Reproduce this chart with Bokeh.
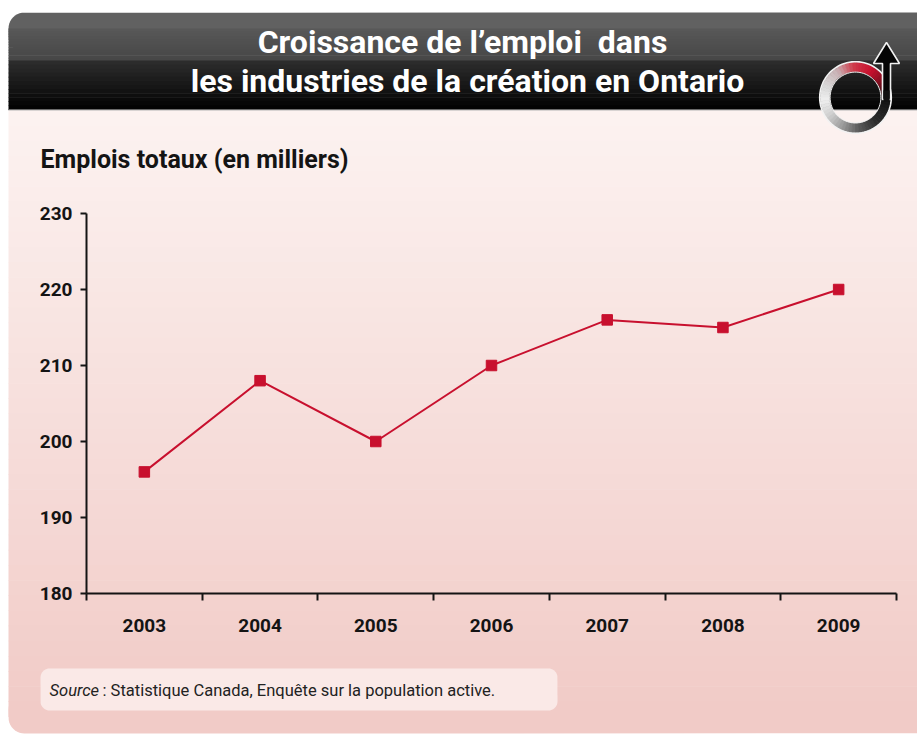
import math
from bokeh.plotting import figure
from bokeh.models import Range1d, FixedTicker
from bokeh.core.properties import value
from bokeh.embed import file_html
from bokeh.resources import INLINE

# ---------------- data ----------------
years = ["2003", "2004", "2005", "2006", "2007", "2008", "2009"]
emplois = [196, 208, 200, 210, 216, 215, 220]
y_ticks = [180, 190, 200, 210, 220, 230]

title_lines = ["Croissance de l\u2019emploi\u00a0 dans", "les industries de la cr\u00e9ation en Ontario"]
y_label = "Emplois totaux (en milliers)"
source_lead = "Source"
source_rest = ": Statistique Canada, Enqu\u00eate sur la population active."

# ---------------- layout ----------------
W, H = 917, 736
FL, FR, FT, FB = 86, 896, 213, 593          # plot area of the chart (pixels)
YMIN, YMAX = 180, 230
n = len(years)
FONT = "Roboto"
RED = "#c8102e"
INK = "#141414"

ux = (FR - FL) / n                 # px per x unit
uy = (FB - FT) / (YMAX - YMIN)     # px per y unit
x_range = Range1d(-FL / ux, n + (W - FR) / ux)
y_range = Range1d(YMIN - (H - FB) / uy, YMAX + FT / uy)


def fx(px):
    return (px - FL) / ux


def fy(py):
    return YMIN + (FB - py) / uy


def hex2rgb(h):
    h = h.lstrip("#")
    return tuple(int(h[i:i + 2], 16) for i in (0, 2, 4))


def mix(c1, c2, t):
    t = max(0.0, min(1.0, t))
    a, b = hex2rgb(c1), hex2rgb(c2)
    return "#%02x%02x%02x" % tuple(round(a[i] + (b[i] - a[i]) * t) for i in range(3))


def rounded(l, r, t, b, rad):
    pts = []
    for (cx, cy, a0) in ((r - rad, t + rad, -90), (r - rad, b - rad, 0),
                         (l + rad, b - rad, 90), (l + rad, t + rad, 180)):
        for k in range(10):
            a = math.radians(a0 + 9 * k)
            pts.append((cx + rad * math.cos(a), cy + rad * math.sin(a)))
    return [fx(q[0]) for q in pts], [fy(q[1]) for q in pts]


p = figure(width=W, height=H, output_backend="svg", toolbar_location=None,
           x_range=x_range, y_range=y_range, min_border=0)
p.grid.visible = False
p.outline_line_color = None
p.background_fill_color = "white"
p.border_fill_color = "white"

# ---------------- panel background ----------------
PL, PR = 8, 950
TOP0, MID, BAR_END, PB = 12, 60, 109, 733
c_top1, c_top2 = "#616161", "#454545"
c_low1, c_low2 = "#2c2c2c", "#030303"
c_body1, c_body2 = "#fcf2f0", "#f1cbc7"

xs, ys = rounded(PL, PR, TOP0, TOP0 + 40, 16)
p.patch(xs, ys, fill_color=c_top1, line_color=None)
xs, ys = rounded(PL, PR, PB - 40, PB, 16)
p.patch(xs, ys, fill_color=c_body2, line_color=None)

bl, br, bt, bb, bc = [], [], [], [], []


def band(y0, y1, c):
    bl.append(fx(PL)); br.append(fx(PR)); bt.append(fy(y0)); bb.append(fy(y1)); bc.append(c)


steps = 12
for i in range(steps):
    y0 = 28 + (MID - 28) * i / steps
    y1 = 28 + (MID - 28) * (i + 1) / steps + 0.6
    band(y0, y1, mix(c_top1, c_top2, (y0 - TOP0) / (MID - TOP0)))
for i in range(steps):
    y0 = MID + (BAR_END - MID) * i / steps
    y1 = MID + (BAR_END - MID) * (i + 1) / steps + 0.6
    band(y0, y1, mix(c_low1, c_low2, i / (steps - 1)))
band(BAR_END - 0.5, BAR_END + 1, "#6a6a6a")
bsteps = 40
for i in range(bsteps):
    y0 = BAR_END + 1 + (716 - BAR_END - 1) * i / bsteps
    y1 = BAR_END + 1 + (716 - BAR_END - 1) * (i + 1) / bsteps + 0.6
    band(y0, y1, mix(c_body1, c_body2, i / (bsteps - 1)))
p.quad(left=bl, right=br, top=bt, bottom=bb, fill_color=bc, line_color=None)

# source box
xs, ys = rounded(40, 557, 668, 710, 9)
p.patch(xs, ys, fill_color="#fae9e7", line_color=None)

# ---------------- logo ----------------
cx, cy, ro, ri = 855, 97, 35, 26
keys = [(0, "#111111"), (30, "#7a1020"), (60, "#c8102e"), (95, "#cf3a4a"),
        (125, "#c9b2b5"), (160, "#d9d9d9"), (185, "#efefef"), (215, "#cfcfcf"),
        (245, "#9c9c9c"), (275, "#5e5e5e"), (310, "#2c2c2c"), (360, "#111111")]


def ang_color(a):
    for (a0, c0), (a1, c1) in zip(keys[:-1], keys[1:]):
        if a0 <= a <= a1:
            return mix(c0, c1, (a - a0) / (a1 - a0))
    return keys[-1][1]


rx, ry, rc = [], [], []
seg = 6
for a in range(0, 360, seg):
    angs = [a + k * seg / 4 for k in range(5)]
    xs = [cx + ro * math.cos(math.radians(t)) for t in angs] + \
         [cx + ri * math.cos(math.radians(t)) for t in reversed(angs)]
    ys = [cy - ro * math.sin(math.radians(t)) for t in angs] + \
         [cy - ri * math.sin(math.radians(t)) for t in reversed(angs)]
    rx.append([fx(v) for v in xs]); ry.append([fy(v) for v in ys])
    rc.append(ang_color(a + seg / 2))
p.patches(rx, ry, fill_color=rc, line_color=rc, line_width=0.8)
cxs, cys = [], []
for r in (ro + 0.8, ri - 0.6):
    angs = [k * 4 for k in range(91)]
    cxs.append([fx(cx + r * math.cos(math.radians(t))) for t in angs])
    cys.append([fy(cy - r * math.sin(math.radians(t))) for t in angs])
p.multi_line(cxs, cys, line_color="#f2f2f2", line_width=[1.6, 1.0])
arrow_x = [882, 882, 873, 886, 899, 890, 890]
arrow_y = [99, 63, 63, 42, 63, 63, 99]
p.patch([fx(v) for v in arrow_x], [fy(v) for v in arrow_y],
        fill_color="#050505", line_color="#f0f0f0", line_width=1.6)
p.quad(left=[fx(882.9)], right=[fx(889.1)], top=[fy(90)], bottom=[fy(101)],
       fill_color="#111111", line_color=None)

# ---------------- texts ----------------
p.text(x=[fx(462), fx(467)], y=[fy(41), fy(80)], text=title_lines,
       text_align="center", text_baseline="middle", text_color="white",
       text_font=value(FONT), text_font_size="32px", text_font_style="bold")
p.text(x=[fx(40)], y=[fy(159)], text=[y_label], text_align="left",
       text_baseline="middle", text_color=INK, text_font=value(FONT),
       text_font_size="25px", text_font_style="bold")
p.text(x=[fx(49)], y=[fy(690)], text=[source_lead], text_align="left",
       text_baseline="middle", text_color="#222222", text_font=value(FONT),
       text_font_size="16.5px", text_font_style="italic")
p.text(x=[fx(102)], y=[fy(690)], text=[source_rest], text_align="left",
       text_baseline="middle", text_color="#222222", text_font=value(FONT),
       text_font_size="16.5px")

# ---------------- axes ----------------
xpos = [i + 0.5 for i in range(n)]

yax = p.yaxis[0]
yax.fixed_location = 0
yax.bounds = (YMIN, YMAX)
yax.ticker = FixedTicker(ticks=y_ticks, minor_ticks=[])
yax.axis_line_width = 2
yax.axis_line_color = INK
yax.major_tick_line_width = 2
yax.major_tick_line_color = INK
yax.major_tick_out = 6
yax.major_tick_in = 0
yax.minor_tick_out = 0
yax.minor_tick_in = 0
yax.major_label_standoff = 8
yax.major_label_text_font = FONT
yax.major_label_text_font_size = "19px"
yax.major_label_text_font_style = "bold"
yax.major_label_text_color = INK

xax = p.xaxis[0]
xax.fixed_location = YMIN
xax.bounds = (0, n)
xax.ticker = FixedTicker(ticks=xpos, minor_ticks=list(range(n + 1)))
xax.major_label_overrides = {x: y for x, y in zip(xpos, years)}
xax.axis_line_width = 2
xax.axis_line_color = INK
xax.major_tick_out = 0
xax.major_tick_in = 0
xax.minor_tick_out = 7
xax.minor_tick_in = 0
xax.minor_tick_line_width = 2
xax.minor_tick_line_color = INK
xax.major_label_standoff = 18
xax.major_label_text_font = FONT
xax.major_label_text_font_size = "19px"
xax.major_label_text_font_style = "bold"
xax.major_label_text_color = INK

# ---------------- data marks ----------------
p.line(x=xpos, y=emplois, line_color=RED, line_width=2)
p.scatter(x=xpos, y=emplois, marker="square", size=10.5, fill_color=RED, line_color=RED)

open("out.html", "w").write(file_html(p, INLINE))
